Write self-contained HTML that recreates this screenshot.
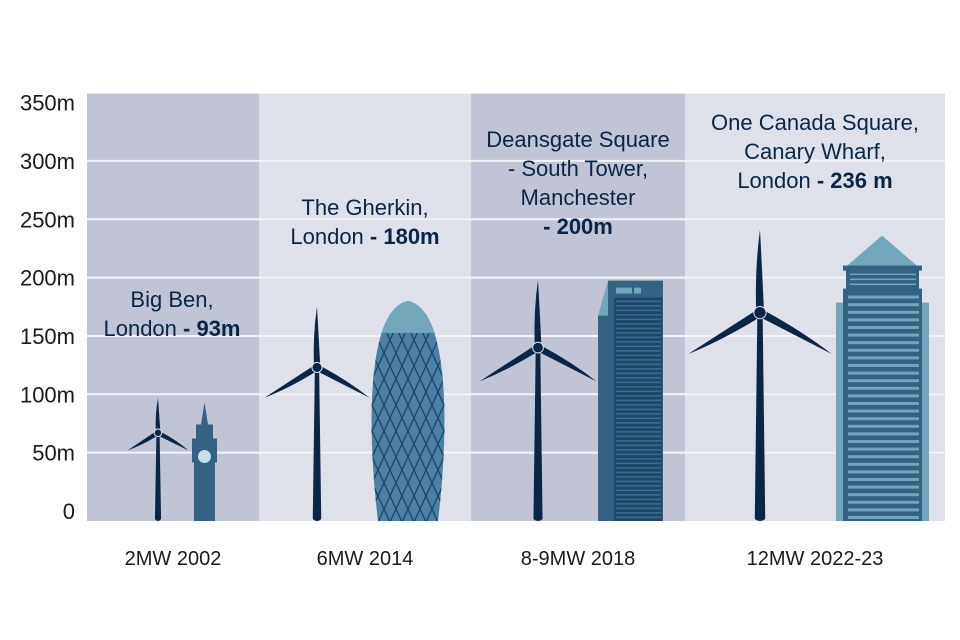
<!DOCTYPE html>
<html><head><meta charset="utf-8"><style>
body{margin:0;background:#fff}
svg{display:block;font-family:"Liberation Sans",sans-serif}
</style></head><body>
<svg id="c" width="960" height="640" viewBox="0 0 960 640"></svg>
<script>
const categories=["2MW 2002","6MW 2014","8-9MW 2018","12MW 2022-23"];
const turbineTip=[97,175,198,241];
const turbineHub=[67,123,140,170];
const buildingHeights=[93,180,200,236];
const yTicks=[0,50,100,150,200,250,300,350];
const tickLabels=["0","50m","100m","150m","200m","250m","300m","350m"];
const NS="http://www.w3.org/2000/svg";
const svg=document.getElementById('c');
const Y0=511,K=1.167,BOT=521;
const y=v=>Y0-v*K;
const panels=[[87,259],[259,471],[471,685],[685,945]];
const turbX=[158,317,538,760];
function el(t,a,p){const e=document.createElementNS(NS,t);for(const k in a)e.setAttribute(k,a[k]);(p||svg).appendChild(e);return e;}
panels.forEach((p,i)=>{
 const r=el('rect',{x:p[0],y:y(350)-9,width:p[1]-p[0],height:BOT-y(350)+9,fill:i%2?'#dfe1ea':'#c0c4d5'});
 
 
});
yTicks.forEach((v,i)=>{
 if(v>0&&v<350){const g=el('line',{x1:87,x2:945,y1:y(v),y2:y(v),stroke:'#f2f3f7','stroke-width':2});
 
 }
 const t=el('text',{x:75,y:y(v)+8,'text-anchor':'end','font-size':22,fill:'#1a1a1a'});
 t.textContent=tickLabels[i];
 
 
});
categories.forEach((c,i)=>{
 const t=el('text',{x:(panels[i][0]+panels[i][1])/2,y:565,'text-anchor':'middle','font-size':20,fill:'#1a1a1a'});
 t.textContent=c;
 
 
});
const NAVY='#0b2545',MID='#336283',LT='#72a6ba';
turbineTip.forEach((tip,i)=>{
 const g=el('g',{fill:NAVY});
 
 
 const x=turbX[i],hy=y(turbineHub[i]),L=(tip-turbineHub[i])*K;
 const w=1.5+L*0.045;
 el('path',{d:`M${x-w*0.5},${hy} L${x+w*0.5},${hy} L${x+w},${BOT-2} Q${x},${BOT+2} ${x-w},${BOT-2}Z`},g);
 [0,120,240].forEach(a=>{
  const bw=1+L*0.035;
  el('path',{d:`M${x-bw},${hy-3} Q${x-bw*1.3},${hy-L*0.55} ${x},${hy-L} Q${x+bw*0.5},${hy-L*0.55} ${x+bw},${hy-3}Z`,transform:`rotate(${a} ${x} ${hy})`},g);
 });
 el('circle',{cx:x,cy:hy,r:2+L*0.05,stroke:'#dfe1ea','stroke-width':1},g);
});
(function(){const h=y(buildingHeights[0]);const g=el('g',{});
 el('rect',{x:194,y:h+58,width:21,height:BOT-h-58,fill:MID},g);
 el('rect',{x:192,y:h+36,width:25,height:24,fill:MID},g);
 el('rect',{x:196,y:h+22,width:17,height:15,fill:MID},g);
 el('path',{d:`M204.5,${h} L208,${h+22} L201,${h+22}Z`,fill:MID},g);
 el('circle',{cx:204.5,cy:h+54,r:6.5,fill:'#c5e0e8'},g);})();
(function(){const h=y(buildingHeights[1]);const g=el('g',{});
 const cx=408;const d=`M${cx-30},${BOT} C${cx-42},${h+120} ${cx-40},${h+8} ${cx},${h} C${cx+40},${h+8} ${cx+42},${h+120} ${cx+30},${BOT}Z`;
 el('clipPath',{id:'gk'},g).appendChild(el('path',{d},g));
 el('path',{d,fill:'#4b7fa4'},g);
 const pg=el('g',{'clip-path':'url(#gk)',stroke:'#1d4466','stroke-width':1.3},g);
 for(let k=-20;k<20;k++){el('line',{x1:cx-60+k*12,y1:h,x2:cx+60+k*12,y2:BOT+40},pg);el('line',{x1:cx+60+k*12,y1:h,x2:cx-60+k*12,y2:BOT+40},pg);}
 el('rect',{x:cx-50,y:h,width:100,height:32,fill:LT,'clip-path':'url(#gk)'},g);})();
(function(){const h=y(buildingHeights[2]);const g=el('g',{});
 el('path',{d:`M598,${h+38} L608,${h+3} L608,${BOT} L598,${BOT}Z`,fill:LT},g);
 el('rect',{x:598,y:h+38,width:10,height:BOT-h-38,fill:MID},g);
 el('rect',{x:608,y:h+3,width:55,height:BOT-h-3,fill:MID},g);
 el('rect',{x:614,y:h+20,width:48,height:BOT-h-20,fill:'#1f4868'},g);
 el('rect',{x:616,y:h+10,width:16,height:6,fill:LT},g);el('rect',{x:634,y:h+10,width:7,height:6,fill:LT},g);
 for(let yy=h+23;yy<BOT;yy+=4.5)el('rect',{x:616,y:yy,width:45,height:1.5,fill:'#3e6c8e'},g);})();
(function(){const h=y(buildingHeights[3]);const g=el('g',{});
 el('rect',{x:836,y:h+67,width:93,height:BOT-h-67,fill:LT},g);
 el('path',{d:`M882,${h} L918,${h+31} L846,${h+31}Z`,fill:LT},g);
 el('rect',{x:843,y:h+30,width:79,height:5,fill:MID},g);
 el('rect',{x:846,y:h+34,width:73,height:20,fill:MID},g);
 el('rect',{x:843,y:h+53,width:79,height:BOT-h-53,fill:MID},g);
 for(let k=0;k<3;k++)el('rect',{x:850,y:h+38+k*5,width:66,height:1.5,fill:LT},g);
 for(let yy=h+60;yy<BOT-5;yy+=7.6)el('rect',{x:848,y:yy,width:71,height:3,fill:LT},g);})();
const titles=[[172,[["Big Ben,",""],["London ","- 93m"]],307],[365,[["The Gherkin,",""],["London ","- 180m"]],215],[578,[["Deansgate Square",""],["- South Tower,",""],["Manchester",""],["","- 200m"]],147],[815,[["One Canada Square,",""],["Canary Wharf,",""],["London ","- 236 m"]],130]];
titles.forEach((t,i)=>{t[1].forEach((ln,j)=>{
 const tx=el('text',{x:t[0],y:t[2]+j*29,'text-anchor':'middle','font-size':22,fill:'#0b2545'});
 
 
 if(ln[0]){const a=el('tspan',{},tx);a.textContent=ln[0];}
 if(ln[1]){const b=el('tspan',{'font-weight':'bold'},tx);b.textContent=ln[1];}
});});
</script>
</body></html>
